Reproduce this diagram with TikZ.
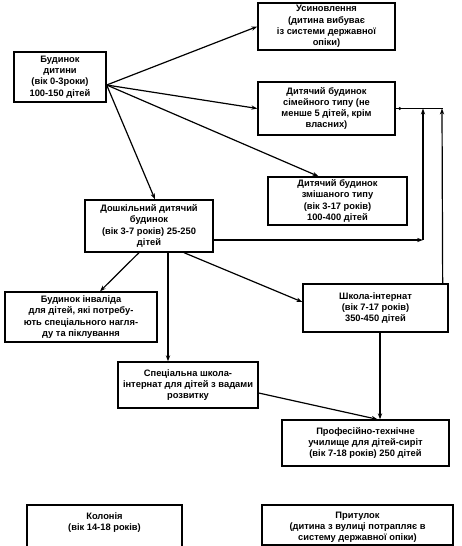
\documentclass[tikz,border=0pt]{standalone}
\usepackage{fontspec}
\setmainfont{Liberation Sans}
\usetikzlibrary{arrows.meta,calc}
\begin{document}
\begin{tikzpicture}[x=0.75pt,y=-0.75pt,
  box/.style={draw,line width=1pt,align=center,inner sep=0pt,
    font=\fontsize{7}{8.4}\selectfont\bfseries},
  arr/.style={line width=0.9pt,-{Stealth[length=4.5pt,width=3.2pt]}},
  ln/.style={line width=0.9pt}]
\useasboundingbox (0,0) rectangle (461,546);
\fill[white] (0,0) rectangle (461,546);
\node[box,minimum width=69pt,minimum height=37.5pt] (A) at (60,77) {Будинок\\дитини\\(вік 0-3роки)\\100-150 дітей};
\node[box,minimum width=102.75pt,minimum height=35.25pt] (B) at (326.5,26.5) {Усиновлення\\(дитина вибуває\\із системи державної\\опіки)};
\node[box,minimum width=102.75pt,minimum height=39.75pt] (C) at (326.5,108.5) {Дитячий будинок\\сімейного типу (не\\менше 5 дітей, крім\\власних)};
\node[box,minimum width=104.25pt,minimum height=36pt] (D) at (337.5,201) {Дитячий будинок\\змішаного типу\\(вік 3-17 років)\\100-400 дітей};
\node[box,minimum width=96pt,minimum height=39pt] (E) at (149,226) {Дошкільний дитячий\\будинок\\(вік 3-7 років) 25-250\\дітей};
\node[box,minimum width=114pt,minimum height=37.5pt] (F) at (81,317) {Будинок інваліда\\для дітей, які потребу-\\ють спеціального нагля-\\ду та піклування};
\node[box,minimum width=108.75pt,minimum height=36pt] (G) at (375.5,308) {Школа-інтернат\\(вік 7-17 років)\\350-450 дітей};
\node[box,minimum width=105pt,minimum height=34.5pt] (H) at (188,385) {Спеціальна школа-\\інтернат для дітей з вадами\\розвитку};
\node[box,minimum width=125.25pt,minimum height=34.5pt] (I) at (365.5,443) {Професійно-технічне\\училище для дітей-сиріт\\(вік 7-18 років) 250 дітей};
\draw[line width=1pt] (27,505) rectangle (182,556);
\node[box,draw=none,anchor=north] (J) at (104.5,512) {Колонія\\(вік 14-18 років)};
\draw[line width=1pt] (262,505) rectangle (453,545);
\node[box,draw=none,anchor=north] (K) at (357.5,511) {Притулок\\(дитина з вулиці потрапляє в\\систему державної опіки)};
% connectors
\coordinate (a0) at ($(A.east)+(0,8)$);
\draw[arr] (a0) -- (B.west);
\draw[arr] (a0) -- (C.west);
\draw[arr] (a0) -- ($(D.north)+(-19,0)$);
\draw[arr] (a0) -- ($(E.north)+(6,0)$);
\draw[arr] ($(E.south)+(-10,0)$) -- ($(F.north)+(19,0)$);
\draw[arr] ($(E.south)+(19,0)$) -- ($(H.north)+(-20,0)$);
\draw[arr] ($(E.south)+(35,0)$) -- ($(G.west)+(0,-6)$);
\coordinate (c1) at (423,240);
\coordinate (j1) at (423,108.5);
\coordinate (j2) at (442,108.5);
\draw[arr] ($(E.east)+(0,14)$) -- (c1);
\draw[arr] (c1) -- (j1);
\draw[arr] ($(G.north east)+(-6,0)$) -- (j2);
\draw[ln] (C.east) -- ($(j2)+(1,0)$);
\fill (C.east) ++(4,0) circle (1.2pt);
\coordinate (gs) at ($(G.south)+(4.5,0)$);
\draw[arr] (gs) -- (gs |- I.north);
\draw[arr] ($(H.east)+(0,8)$) -- ($(I.north)+(12,0)$);
\end{tikzpicture}
\end{document}
